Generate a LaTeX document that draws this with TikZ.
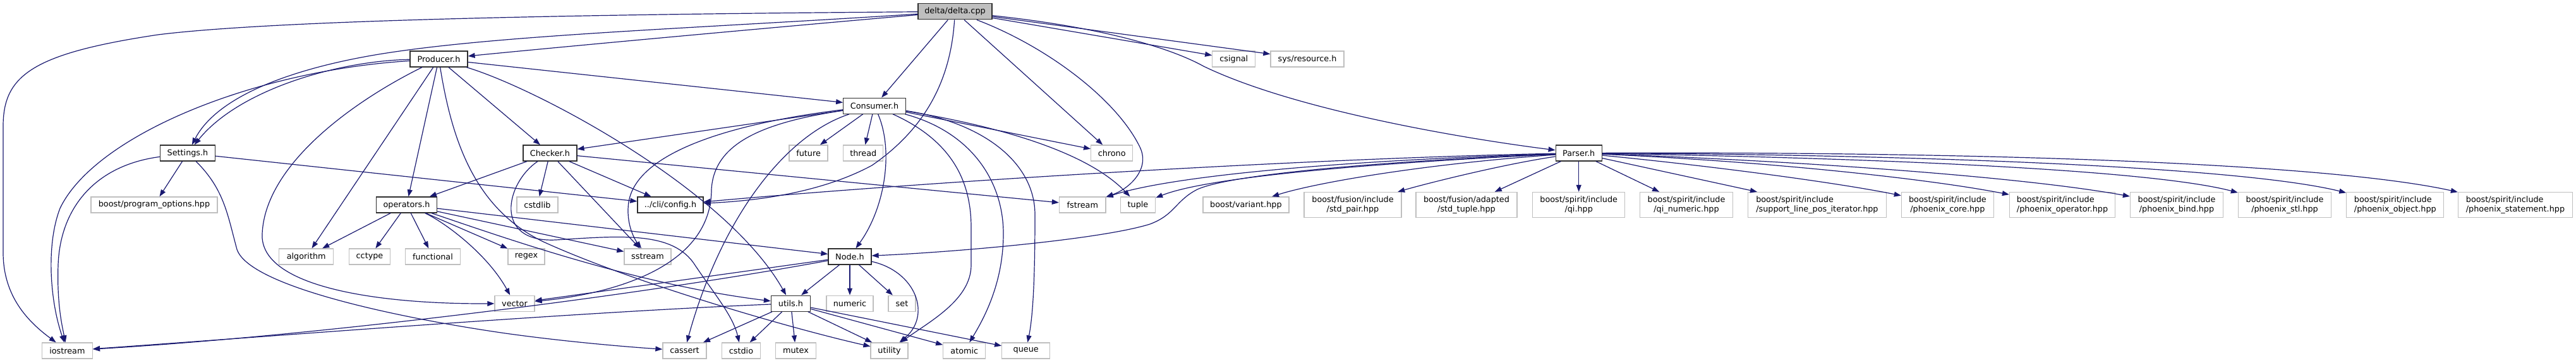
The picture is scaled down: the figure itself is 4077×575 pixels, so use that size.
\documentclass[tikz,border=0pt]{standalone}
\usepackage{fontspec}
\setmainfont{DejaVu Sans}
\usetikzlibrary{arrows.meta}
\definecolor{edgec}{HTML}{191970}
\definecolor{greyb}{HTML}{BFBFBF}
\definecolor{darkb}{HTML}{2E2E2E}
\newcommand\dgfont{\fontsize{12.8}{14.7}\selectfont}
\begin{document}
\begin{tikzpicture}[x=1pt,y=-1pt,
  gbox/.style={draw=greyb, line width=1.3pt, fill=white, inner sep=0pt, minimum height=25pt, font=\dgfont, text=black},
  bbox/.style={draw=darkb, line width=1.25pt, fill=white, inner sep=0pt, minimum height=25pt, font=\dgfont, text=black},
  tall/.style={minimum height=40pt, align=center},
  tallL/.style={minimum height=40pt, align=left},
  lnk/.style={draw=edgec, line width=1.2pt, -{Triangle[length=11pt,width=8pt]}},
  w/.style={minimum width=#1pt}]
\useasboundingbox (0,0) rectangle (4077,575);
% row 0
\node[bbox,fill=greyb,w=117] (d) at (1511.5,18.3) {delta/delta.cpp};
% row 1
\node[bbox,w=91] (prod) at (694.5,93.5) {Producer.h};
\node[gbox,w=68] (csig) at (1952.8,93.5) {csignal};
\node[gbox,w=116] (sysr) at (2069,93.5) {sys/resource.h};
% row 2
\node[bbox,w=98.5] (cons) at (1384,167.7) {Consumer.h};
% row 3
\node[bbox,w=87] (setg) at (297,242.5) {Settings.h};
\node[bbox,w=85] (chk) at (870.4,242.5) {Checker.h};
\node[gbox,w=61] (fut) at (1279.6,242.5) {future};
\node[gbox,w=63] (thr) at (1366.3,242.5) {thread};
\node[gbox,w=66] (chr) at (1759.7,242.5) {chrono};
\node[bbox,w=73] (par) at (2498.7,242.5) {Parser.h};
% row 4
\node[gbox,w=200] (po) at (244,324.5) {boost/program\_options.hpp};
\node[bbox,w=96] (ops) at (643.6,324.5) {operators.h};
\node[gbox,w=65] (cstdl) at (850.5,324.5) {cstdlib};
\node[bbox,w=104] (cfg) at (1061,324.5) {../cli/config.h};
\node[gbox,w=73.5] (fst) at (1713.3,324.5) {fstream};
\node[gbox,w=55] (tup) at (1801,324.5) {tuple};
\node[gbox,w=136] (var) at (1971.9,324.5) {boost/variant.hpp};
\node[gbox,tall,w=154] (pair) at (2141,324.5) {boost/fusion/include\\/std\_pair.hpp};
\node[gbox,tall,w=160] (stup) at (2321,324.5) {boost/fusion/adapted\\/std\_tuple.hpp};
\node[gbox,tall,w=146] (qi) at (2498.7,324.5) {boost/spirit/include\\/qi.hpp};
\node[gbox,tall,w=147] (qin) at (2669,324.5) {boost/spirit/include\\/qi\_numeric.hpp};
\node[gbox,tallL,w=219] (slp) at (2875.9,324.5) {boost/spirit/include\\/support\_line\_pos\_iterator.hpp};
\node[gbox,tall,w=146] (pcore) at (3082.4,324.5) {boost/spirit/include\\/phoenix\_core.hpp};
\node[gbox,tallL,w=167] (pop) at (3264,324.5) {boost/spirit/include\\/phoenix\_operator.hpp};
\node[gbox,tall,w=147] (pbind) at (3445,324.5) {boost/spirit/include\\/phoenix\_bind.hpp};
\node[gbox,tall,w=147] (pstl) at (3616,324.5) {boost/spirit/include\\/phoenix\_stl.hpp};
\node[gbox,tallL,w=154] (pobj) at (3790.8,324.5) {boost/spirit/include\\/phoenix\_object.hpp};
\node[gbox,tallL,w=181] (pst) at (3981,324.5) {boost/spirit/include\\/phoenix\_statement.hpp};
% row 5
\node[gbox,w=86] (alg) at (484.7,406.5) {algorithm};
\node[gbox,w=65] (cct) at (585,406.5) {cctype};
\node[gbox,w=87] (fun) at (685,406.5) {functional};
\node[gbox,w=58] (rgx) at (833,406.5) {regex};
\node[gbox,w=74] (sst) at (1025,406.5) {sstream};
\node[bbox,w=68] (nodeh) at (1345,406.5) {Node.h};
% row 6
\node[gbox,w=63] (vec) at (814.5,480.7) {vector};
\node[bbox,w=62] (utl) at (1251.5,480.7) {utils.h};
\node[gbox,w=74] (num) at (1345,480.7) {numeric};
\node[gbox,w=43] (stdset) at (1427.5,480.7) {set};
% row 7
\node[gbox,w=80] (ios) at (106.4,555.5) {iostream};
\node[gbox,w=69] (cas) at (1083.5,555.5) {cassert};
\node[gbox,w=61] (cstd) at (1173,555.5) {cstdio};
\node[gbox,w=64] (mtx) at (1259.5,555.5) {mutex};
\node[gbox,w=59] (uty) at (1407.6,555.5) {utility};
\node[gbox,w=67] (atm) at (1526.3,555.5) {atomic};
\node[gbox,w=76] (que) at (1623.7,555.5) {queue};

% delta/delta.cpp
\draw[lnk] (d) .. controls (1000,22) and (450,30) .. (250,55) .. controls (50,85) and (5,120) .. (5,200) -- (5,400) .. controls (5,470) and (45,510) .. (ios);
\draw[lnk] (d) .. controls (1100,45) and (800,55) .. (612,84) .. controls (470,106) and (345,150) .. (setg);
\draw[lnk] (d) .. controls (1150,50) and (850,78) .. (prod);
\draw[lnk] (d) -- (cons);
\draw[lnk] (d) .. controls (1505,120) and (1470,200) .. (1380,262) .. controls (1300,305) and (1200,318) .. (cfg);
\draw[lnk] (d) -- (chr);
\draw[lnk] (d) .. controls (1660,75) and (1770,160) .. (1805,235) .. controls (1820,270) and (1785,300) .. (fst);
\draw[lnk] (d) -- (csig);
\draw[lnk] (d) -- (sysr);
\draw[lnk] (d) .. controls (1760,45) and (1860,80) .. (1905,105) .. controls (2050,175) and (2320,220) .. (par);

% Producer.h
\draw[lnk] (prod) .. controls (540,96) and (380,140) .. (setg);
\draw[lnk] (prod) .. controls (400,112) and (150,215) .. (95,330) .. controls (72,390) and (80,480) .. (ios);
\draw[lnk] (prod) .. controls (560,160) and (420,260) .. (415,370) .. controls (410,455) and (600,482) .. (vec);
\draw[lnk] (prod) -- (alg);
\draw[lnk] (prod) -- (ops);
\draw[lnk] (prod) -- (chk);
\draw[lnk] (prod) -- (cons);
\draw[lnk] (prod) .. controls (850,140) and (1150,300) .. (utl);
\draw[lnk] (prod) .. controls (715,220) and (750,330) .. (860,383) .. controls (1000,447) and (1250,520) .. (uty);

% Settings.h
\draw[lnk] (setg) .. controls (150,262) and (95,330) .. (92,420) .. controls (90,480) and (98,515) .. (ios);
\draw[lnk] (setg) -- (po);
\draw[lnk] (setg) .. controls (355,300) and (360,340) .. (375,395) .. controls (395,455) and (640,505) .. (800,528) .. controls (900,542) and (1000,550) .. (cas);
\draw[lnk] (setg) -- (cfg);

% Checker.h
\draw[lnk] (chk) -- (ops);
\draw[lnk] (chk) .. controls (800,290) and (780,385) .. (880,380) .. controls (980,374) and (1065,365) .. (1100,420) .. controls (1130,465) and (1160,500) .. (cstd);
\draw[lnk] (chk) -- (cstdl);
\draw[lnk] (chk) -- (sst);
\draw[lnk] (chk) -- (cfg);
\draw[lnk] (chk) -- (fst);

% Consumer.h
\draw[lnk] (cons) -- (chk);
\draw[lnk] (cons) .. controls (1200,190) and (1010,230) .. (995,320) .. controls (990,355) and (1005,380) .. (sst);
\draw[lnk] (cons) .. controls (1200,195) and (1130,230) .. (1126,300) .. controls (1126,410) and (1000,462) .. (vec);
\draw[lnk] (cons) .. controls (1240,215) and (1140,350) .. (cas);
\draw[lnk] (cons) -- (fut);
\draw[lnk] (cons) -- (thr);
\draw[lnk] (cons) .. controls (1415,240) and (1400,330) .. (nodeh);
\draw[lnk] (cons) .. controls (1500,220) and (1537,280) .. (1537,360) -- (1537,420) .. controls (1537,475) and (1470,510) .. (uty);
\draw[lnk] (cons) .. controls (1540,210) and (1588,290) .. (1588,370) .. controls (1588,445) and (1560,500) .. (atm);
\draw[lnk] (cons) .. controls (1560,195) and (1638,260) .. (1638,340) .. controls (1638,440) and (1635,500) .. (que);
\draw[lnk] (cons) -- (chr);
\draw[lnk] (cons) .. controls (1580,200) and (1720,240) .. (tup);

% Parser.h
\draw[lnk] (par) .. controls (2100,250) and (1500,285) .. (cfg);
\draw[lnk] (par) .. controls (2200,255) and (1950,275) .. (1895,300) .. controls (1860,318) and (1860,340) .. (1820,355) .. controls (1740,380) and (1500,400) .. (nodeh);
\draw[lnk] (par) .. controls (2100,255) and (1850,280) .. (fst);
\draw[lnk] (par) .. controls (2100,262) and (1900,285) .. (tup);
\draw[lnk] (par) .. controls (2250,260) and (2080,290) .. (var);
\draw[lnk] (par) .. controls (2380,260) and (2260,290) .. (pair);
\draw[lnk] (par) -- (stup);
\draw[lnk] (par) -- (qi);
\draw[lnk] (par) -- (qin);
\draw[lnk] (par) -- (slp);
\draw[lnk] (par) .. controls (2700,262) and (2900,288) .. (pcore);
\draw[lnk] (par) .. controls (2800,256) and (3050,283) .. (pop);
\draw[lnk] (par) .. controls (2850,255) and (3200,280) .. (pbind);
\draw[lnk] (par) .. controls (2950,250) and (3400,268) .. (pstl);
\draw[lnk] (par) .. controls (3050,245) and (3550,265) .. (pobj);
\draw[lnk] (par) .. controls (3200,240) and (3700,262) .. (pst);

% operators.h
\draw[lnk] (ops) -- (alg);
\draw[lnk] (ops) -- (cct);
\draw[lnk] (ops) -- (fun);
\draw[lnk] (ops) -- (rgx);
\draw[lnk] (ops) .. controls (700,350) and (770,400) .. (vec);
\draw[lnk] (ops) -- (sst);
\draw[lnk] (ops) -- (nodeh);
\draw[lnk] (ops) .. controls (780,370) and (1000,450) .. (utl);

% Node.h
\draw[lnk] (nodeh) -- (utl);
\draw[lnk] (nodeh) -- (num);
\draw[lnk] (nodeh) -- (stdset);
\draw[lnk] (nodeh) .. controls (1450,430) and (1475,500) .. (uty);
\draw[lnk] (nodeh) -- (vec);
\draw[lnk] (nodeh) .. controls (1000,470) and (500,532) .. (ios);

% utils.h
\draw[lnk] (utl) .. controls (900,495) and (400,535) .. (ios);
\draw[lnk] (utl) -- (cas);
\draw[lnk] (utl) -- (cstd);
\draw[lnk] (utl) -- (mtx);
\draw[lnk] (utl) -- (uty);
\draw[lnk] (utl) -- (atm);
\draw[lnk] (utl) -- (que);
\end{tikzpicture}
\end{document}
